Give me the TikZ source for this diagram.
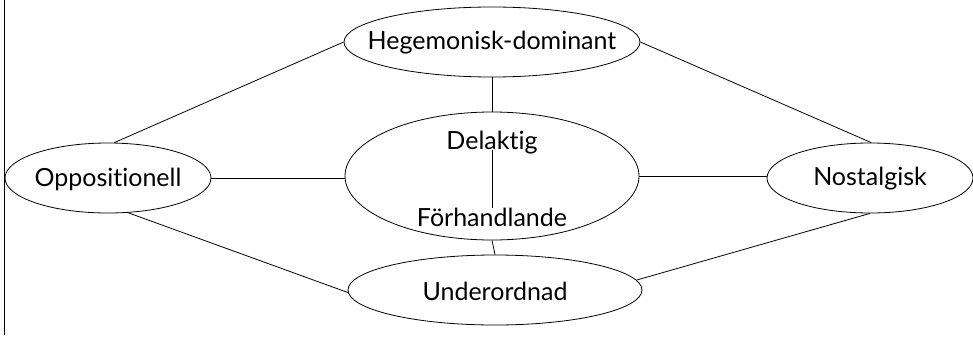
\documentclass[tikz,border=0pt]{standalone}
\usepackage{fontspec}
\setmainfont{Lato}[Ligatures={NoCommon}]
\usetikzlibrary{shapes.geometric}
\begin{document}
\begin{tikzpicture}[x=1pt,y=-1pt,
  oval/.style={draw, ellipse, line width=0.8pt, inner sep=0pt, fill=none},
  lbl/.style={font=\fontsize{25}{29}\selectfont, inner sep=0pt},
  link/.style={line width=0.8pt}]
\useasboundingbox (0,0) rectangle (973,337);
\coordinate (lt) at (4,0);
\coordinate (lb) at (4,335);
\draw[link] (lt) -- (lb);
\node[oval, minimum width=206pt, minimum height=70pt] (opp) at (108,178) {};
\node[oval, minimum width=296pt, minimum height=70pt] (heg) at (492,42) {};
\node[oval, minimum width=294pt, minimum height=128pt] (del) at (492,176) {};
\node[oval, minimum width=294pt, minimum height=70pt] (und) at (495,290) {};
\node[oval, minimum width=206pt, minimum height=70pt] (nos) at (870,178) {};
\node[lbl] (oppt) at (108,179) {Oppositionell};
\node[lbl] (hegt) at (492,43) {Hegemonisk-dominant};
\node[lbl] (undt) at (495,291) {Underordnad};
\node[lbl] (nost) at (870,179) {Nostalgisk};
\node[lbl] (delt) at (492,143) {Delaktig};
\node[lbl] (fort) at (492,217) {Förhandlande};
\coordinate (dtop) at (492,150);
\coordinate (dbot) at (492,208);
\draw[link] (opp.80) -- (heg.west);
\draw[link] (opp.east) -- (opp.east -| del.west);
\draw[link] (opp.-60) -- (und.181);
\draw[link] (heg.east) -- (nos.88);
\draw[link] (del.east) -- (del.east -| nos.west);
\draw[link] (und.4) -- (nos.south);
\draw[link] (heg.south) -- (del.north);
\draw[link] (dtop) -- (dbot);
\draw[link] (del.south) -- (und.north);
\end{tikzpicture}
\end{document}
